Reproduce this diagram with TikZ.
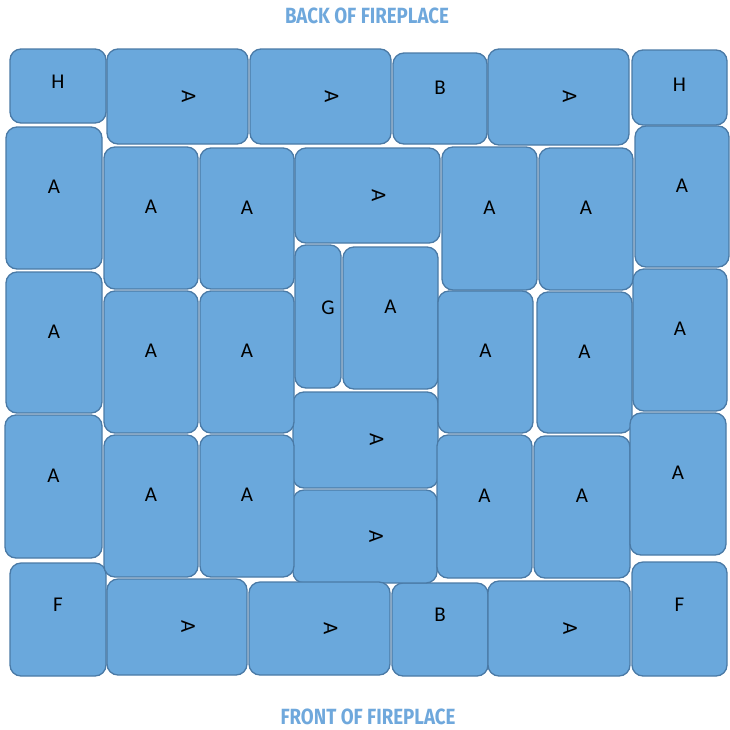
\documentclass[tikz,border=0pt]{standalone}
\usepackage{fontspec}
\setmainfont{Carlito}
\newfontfamily\titlefont[FakeStretch=0.85]{Fira Sans}
\usepackage{xcolor}
\usepackage{tikz}
\usetikzlibrary{fit}
\definecolor{brickfill}{RGB}{106,168,220}
\definecolor{brickline}{RGB}{74,122,166}
\definecolor{titleblue}{RGB}{111,168,220}

\begin{document}
\begin{tikzpicture}[x=1pt, y=-1pt]
	% Styles
	\tikzstyle{brick} = [draw=brickline, fill=brickfill, line width=1.3pt, rounded corners=11pt, inner sep=0pt]
	\tikzstyle{lbl} = [font=\fontsize{21}{21}\selectfont, text=black, inner sep=0pt]
	\tikzstyle{rlbl} = [lbl, rotate=-90]
	\tikzstyle{title} = [font=\titlefont\bfseries\fontsize{22}{22}\selectfont, text=titleblue, inner sep=0pt]

	\useasboundingbox (0,0) rectangle (730,729);

	% Titles
	\node (back) [title] at (367,16) {BACK OF FIREPLACE};
	\node (front) [title] at (368,717) {FRONT OF FIREPLACE};

	% Corner bricks
	\node (hTL) [brick, fit={(10,49) (106,123)}] {};
	\node (hTR) [brick, fit={(632,50) (727,125)}] {};
	\node (fBL) [brick, fit={(10,563) (106,676)}] {};
	\node (fBR) [brick, fit={(632,562) (727,676)}] {};
	\node [lbl] at ([yshift=4pt]hTL.center) {H};
	\node [lbl] at ([yshift=3pt]hTR.center) {H};
	\node [lbl] at ([yshift=15pt]fBL.center) {F};
	\node [lbl] at ([yshift=14pt]fBR.center) {F};

	% B bricks
	\node (bTop) [brick, fit={(393,53) (487,144)}] {};
	\node (bBot) [brick, fit={(392,583) (488,676)}] {};
	\node [lbl] at ([yshift=11pt]bTop.center) {B};
	\node [lbl] at ([yshift=15pt]bBot.center) {B};

	% Lying A bricks
	\foreach \n/\xa/\ya/\xb/\yb in {t1/107/49/248/144, t2/250/49/391/144, t3/488/49/629/145,
		c1/295/148/440/243, c2/293/392/438/488, c3/293/490/437/583,
		u1/107/579/247/675, u2/249/582/390/675, u3/488/581/630/676}
	{
		\node (\n) [brick, fit={(\xa,\ya) (\xb,\yb)}] {};
		\node [rlbl] at ([xshift=11pt]\n.center) {A};
	}

	% G brick
	\node (gMid) [brick, fit={(295,245) (341,388)}] {};
	\node [lbl] at ([xshift=10pt, yshift=9pt]gMid.center) {G};

	% Standing A bricks
	\foreach \n/\xa/\ya/\xb/\yb in {l1/6/127/102/269, l2/6/272/102/413, l3/5/415/102/558,
		p1/104/147/198/289, p2/104/291/198/433, p3/104/435/198/577,
		q1/200/148/294/289, q2/200/291/294/433, q3/200/435/294/577,
		m1/343/247/438/389,
		s1/442/147/537/290, s2/438/291/533/433, s3/437/435/532/578,
		v1/539/148/633/290, v2/537/292/632/433, v3/534/436/630/578,
		r1/635/126/729/267, r2/633/269/727/411, r3/630/413/726/555}
	{
		\node (\n) [brick, fit={(\xa,\ya) (\xb,\yb)}] {};
		\node [lbl] at ([yshift=11pt]\n.center) {A};
	}
\end{tikzpicture}
\end{document}
